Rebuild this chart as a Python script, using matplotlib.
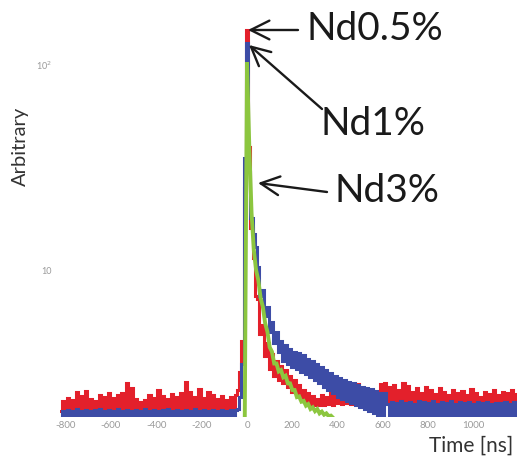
import numpy as np
import matplotlib
matplotlib.use("Agg")
import matplotlib.pyplot as plt
from matplotlib.ticker import NullLocator, FixedLocator, FixedFormatter

plt.rcParams['font.family'] = ['Lato', 'DejaVu Sans']

# ---------------- data ----------------
t_red = np.arange(-820, 1200, 10)
red_vals = [
    2.05, 2.30, 2.06, 2.38, 2.04, 2.32, 2.06, 2.55, 2.05, 2.42, 2.07, 2.58, 2.04, 2.35, 2.06, 2.30,
    2.05, 2.45, 2.04, 2.40, 2.07, 2.50, 2.05, 2.38, 2.06, 2.45, 2.04, 2.52, 2.08, 2.80, 2.06, 2.65,
    2.05, 2.35, 2.04, 2.28, 2.06, 2.32, 2.05, 2.45, 2.04, 2.38, 2.07, 2.60, 2.05, 2.42, 2.06, 2.35,
    2.04, 2.48, 2.05, 2.40, 2.06, 2.50, 2.07, 2.85, 2.05, 2.55, 2.04, 2.40, 2.06, 2.62, 2.05, 2.38,
    2.07, 2.55, 2.04, 2.45, 2.06, 2.36, 2.05, 2.42, 2.06, 2.33, 2.04, 2.40, 2.07, 2.45,
    # rise and peak (-40 .. 20)
    2.6, 3.2, 4.5, 25.0, 148.0, 40.0, 16.0,
    # decay (30 .. 290)
    11.5, 7.5, 7.2, 4.9, 5.4, 3.8, 4.4, 3.3, 3.9, 3.05, 3.6, 2.9, 3.4, 2.8, 3.25, 2.7, 3.05, 2.55,
    2.9, 2.45, 2.75, 2.35, 2.6, 2.3, 2.5, 2.22, 2.42,
    # tail (300 .. 1190)
    2.20, 2.35, 2.20, 2.45, 2.20, 2.40, 2.22, 2.50, 2.20, 2.70, 2.25, 2.60, 2.22, 2.75, 2.25, 2.80,
    2.22, 2.70, 2.25, 2.78, 2.22, 2.60, 2.24, 2.50, 2.22, 2.60, 2.24, 2.55, 2.22, 2.78, 2.25, 2.82,
    2.22, 2.70, 2.25, 2.75, 2.22, 2.60, 2.24, 2.80, 2.22, 2.72, 2.25, 2.55, 2.22, 2.65, 2.24, 2.50,
    2.22, 2.70, 2.25, 2.60, 2.22, 2.48, 2.24, 2.65, 2.22, 2.55, 2.24, 2.45, 2.22, 2.60, 2.24, 2.50,
    2.22, 2.58, 2.24, 2.45, 2.22, 2.62, 2.24, 2.50, 2.22, 2.40, 2.24, 2.55, 2.22, 2.48, 2.24, 2.60,
    2.22, 2.45, 2.24, 2.55, 2.22, 2.50, 2.24, 2.60, 2.22, 2.48,
]

t_blue = np.arange(-820, 1200, 10)
blue_vals = [
    1.90, 2.06, 1.90, 2.08, 1.90, 2.05, 1.90, 2.10, 1.90, 2.06, 1.90, 2.08, 1.90, 2.05, 1.90, 2.07,
    1.90, 2.09, 1.90, 2.05, 1.90, 2.08, 1.90, 2.06, 1.90, 2.10, 1.90, 2.05, 1.90, 2.08, 1.90, 2.06,
    1.90, 2.07, 1.90, 2.05, 1.90, 2.09, 1.90, 2.06, 1.90, 2.08, 1.90, 2.05, 1.90, 2.07, 1.90, 2.10,
    1.90, 2.06, 1.90, 2.08, 1.90, 2.05, 1.90, 2.07, 1.90, 2.06, 1.90, 2.09, 1.90, 2.05, 1.90, 2.08,
    1.90, 2.06, 1.90, 2.07, 1.90, 2.05, 1.90, 2.08, 1.90, 2.06, 1.90, 2.07, 1.90, 2.08,
    # rise and peak (-40 .. 20)
    2.1, 2.4, 3.5, 35.0, 128.0, 30.0, 18.0,
    # decay (30 .. 610)
    15.0, 13.0, 10.3, 7.5, 8.0, 6.0, 6.6, 5.0, 5.6, 4.4, 5.0, 4.0, 4.5, 3.6, 4.3, 3.5, 4.1, 3.35,
    4.0, 3.3, 3.95, 3.2, 3.85, 3.1, 3.7, 3.0, 3.6, 2.9, 3.5, 2.8, 3.35, 2.7, 3.25, 2.6, 3.15, 2.5,
    3.05, 2.4, 2.98, 2.35, 2.92, 2.3, 2.85, 2.25, 2.8, 2.2, 2.75, 2.15, 2.7, 2.1, 2.65, 2.05,
    2.62, 2.0, 2.58, 1.95, 2.52, 1.95, 2.5,
    # tail (620 .. 1190)
    2.22, 1.90, 2.28, 1.90, 2.25, 1.90, 2.30, 1.90, 2.24, 1.90, 2.28, 1.90, 2.22, 1.90, 2.30,
    1.90, 2.26, 1.90, 2.24, 1.90, 2.30, 1.90, 2.22, 1.90, 2.27, 1.90, 2.24, 1.90, 2.30, 1.90,
    2.22, 1.90, 2.26, 1.90, 2.24, 1.90, 2.28, 1.90, 2.22, 1.90, 2.26, 1.90, 2.24, 1.90, 2.28,
    1.90, 2.22, 1.90, 2.25, 1.90, 2.24, 1.90, 2.27, 1.90, 2.22, 1.90, 2.26, 1.90,
]

t_green = np.arange(-10, 390, 10)
green_vals = [
    1.85, 103.0, 40.0, 19.0, 12.5, 10.0, 8.9, 7.3, 6.6, 5.5, 5.0, 4.2, 4.0, 3.5, 3.5, 3.2,
    3.25, 3.0, 3.05, 2.8, 2.8, 2.6, 2.6, 2.4, 2.42, 2.28, 2.3, 2.18, 2.22, 2.1, 2.14, 2.05,
    2.1, 2.0, 2.04, 1.97, 2.0, 1.94, 1.95, 1.9,
]

x_ticks = [-800, -600, -400, -200, 0, 200, 400, 600, 800, 1000]
x_tick_labels = ['-800', '-600', '-400', '-200', '0', '200', '400', '600', '800', '1000']
y_ticks = [10, 100]
y_tick_labels = ['10', '10$^{2}$']

labels = ['Nd0.5%', 'Nd1%', 'Nd3%']
colors = {'red': '#e3202b', 'blue': '#3d4ca6', 'green': '#8cc63f'}

# ---------------- figure ----------------
W, H = 517, 459
fig = plt.figure(figsize=(W / 100, H / 100), dpi=100)
fig.patch.set_facecolor('white')
ax = fig.add_axes([60 / W, 42 / H, 457 / W, 412 / H])
ax.set_yscale('log')

ax.plot(t_red[:len(red_vals)], red_vals, color=colors['red'], lw=2.2,
        drawstyle='steps-mid', solid_joinstyle='miter')
ax.plot(t_blue[:len(blue_vals)], blue_vals, color=colors['blue'], lw=2.2,
        drawstyle='steps-mid', solid_joinstyle='miter')
ax.plot(t_green[:len(green_vals)], green_vals, color=colors['green'], lw=2.8,
        solid_joinstyle='miter')

ax.set_xlim(-825, 1191)
ax.set_ylim(1.92, 196)
for s in ax.spines.values():
    s.set_visible(False)
ax.xaxis.set_major_locator(FixedLocator(x_ticks))
ax.xaxis.set_major_formatter(FixedFormatter(x_tick_labels))
ax.yaxis.set_major_locator(FixedLocator(y_ticks))
ax.yaxis.set_major_formatter(FixedFormatter(y_tick_labels))
ax.yaxis.set_minor_locator(NullLocator())
ax.xaxis.set_minor_locator(NullLocator())
ax.tick_params(axis='both', length=0, colors='#9a9a9a', labelsize=7)
ax.tick_params(axis='x', pad=3)
ax.tick_params(axis='y', pad=6, labelsize=6.5)


def fp(x, y):
    return (x, H - y)


fig.text(20 / W, 1 - 146 / H, 'Arbitrary', rotation=90, ha='center', va='center',
         fontsize=14.5, color='#333333')
fig.text(471 / W, 1 - 446 / H, 'Time [ns]', ha='center', va='center', fontsize=15, color='#333333')

arrow_kw = dict(arrowstyle='->,head_length=0.9,head_width=0.45', lw=1.7, color='#1a1a1a',
                shrinkA=0, shrinkB=0, mutation_scale=15)
ax.annotate('', xy=fp(248, 30), xytext=fp(298, 30), xycoords='figure pixels',
            textcoords='figure pixels', arrowprops=arrow_kw)
ax.annotate('', xy=fp(249, 45), xytext=fp(322, 109), xycoords='figure pixels',
            textcoords='figure pixels', arrowprops=arrow_kw)
ax.annotate('', xy=fp(258, 183), xytext=fp(327, 192), xycoords='figure pixels',
            textcoords='figure pixels', arrowprops=arrow_kw)

fig.text(307 / W, 1 - 29 / H, labels[0], ha='left', va='center', fontsize=28, color='#1a1a1a')
fig.text(321 / W, 1 - 124 / H, labels[1], ha='left', va='center', fontsize=28, color='#1a1a1a')
fig.text(335 / W, 1 - 191 / H, labels[2], ha='left', va='center', fontsize=28, color='#1a1a1a')

fig.savefig('out.png', dpi=100, facecolor='white')
